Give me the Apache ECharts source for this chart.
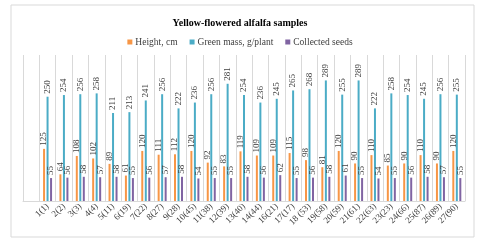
<!DOCTYPE html>
<html>
<head>
<meta charset="utf-8">
<script src="https://cdn.jsdelivr.net/npm/echarts@6/dist/echarts.min.js"></script>
<style>
html,body{margin:0;padding:0;background:#fff;}
#chart{width:480px;height:241px;}
</style>
</head>
<body>
<div id="chart"></div>
<script>
var categories = ['', '1(1)', '2(2)', '3(3)', '4(4)', '5(11)', '6(19)', '7(22)', '8(27)', '9(28)', '10(45)', '11(38)', '12(39)', '13(40)', '14(44)', '16(21)', '17(17)', '18 (53)', '19(58)', '20(59)', '21(61)', '22(63)', '23(23)', '24(66)', '25(87)', '26(89)', '27(90)'];
var heightCm = [null, 125, 64, 108, 102, 89, 61, 120, 111, 112, 120, 92, 83, 119, 109, 109, 115, 98, 81, 120, 90, 110, 85, 90, 110, 90, 120];
var greenMass = [null, 250, 254, 256, 258, 211, 213, 241, 256, 222, 236, 256, 281, 254, 236, 245, 265, 268, 289, 255, 289, 222, 258, 254, 245, 256, 255];
var seeds = [null, 55, 56, 58, 57, 58, 55, 56, 57, 58, 54, 55, 55, 58, 56, 62, 55, 56, 58, 61, 55, 54, 55, 56, 58, 57, 55];
var seriesNames = ['Height, cm', 'Green mass, g/plant', 'Collected seeds'];
var colors = ['#F79646', '#4BACC6', '#8064A2'];

var font = "'Liberation Serif', 'Times New Roman', serif";
var chart = echarts.init(document.getElementById('chart'), null, {renderer: 'canvas'});

function mkSeries(name, data, color) {
  return {
    name: name,
    type: 'bar',
    data: data,
    barWidth: 2,
    barGap: '75%',
    itemStyle: {color: color},
    label: {
      show: true,
      position: 'top',
      rotate: 90,
      align: 'left',
      verticalAlign: 'middle',
      distance: 3,
      fontFamily: font,
      fontSize: 9,
      color: '#404040'
    }
  };
}

chart.setOption({
  animation: false,
  backgroundColor: '#fff',
  graphic: [{
    type: 'rect',
    shape: {x: 11, y: 5, width: 463, height: 232},
    style: {fill: 'none', stroke: '#d9d9d9', lineWidth: 1}
  }],
  title: {
    text: 'Yellow-flowered alfalfa samples',
    left: 'center',
    top: 13,
    textStyle: {fontFamily: font, fontSize: 10, fontWeight: 'bold', color: '#000'}
  },
  legend: {
    top: 32,
    left: 'center',
    icon: 'rect',
    itemWidth: 5,
    itemHeight: 5,
    itemGap: 12,
    textStyle: {fontFamily: font, fontSize: 9.5, color: '#404040', padding: [0, 0, 0, -2]},
    data: seriesNames
  },
  grid: {left: 23, right: 15, top: 55, bottom: 40, containLabel: false},
  xAxis: {
    type: 'category',
    data: categories,
    axisLine: {show: true, lineStyle: {color: '#d9d9d9'}},
    axisTick: {show: false},
    splitLine: {show: true, interval: 0, lineStyle: {color: '#d9d9d9'}},
    axisLabel: {
      interval: 0,
      rotate: 45,
      margin: 4,
      fontFamily: font,
      fontSize: 9,
      color: '#404040'
    }
  },
  yAxis: {
    type: 'value',
    min: 0,
    max: 350,
    show: false,
    splitLine: {show: false}
  },
  series: [
    mkSeries(seriesNames[0], heightCm, colors[0]),
    mkSeries(seriesNames[1], greenMass, colors[1]),
    mkSeries(seriesNames[2], seeds, colors[2])
  ]
});
</script>
</body>
</html>
